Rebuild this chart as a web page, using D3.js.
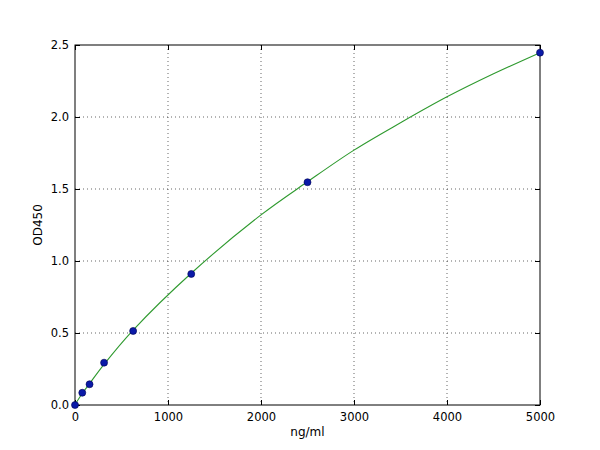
<!DOCTYPE html>
<html>
<head>
  <meta charset="utf-8">
  <title>OD450 standard curve</title>
  <style>
    body { margin: 0; background: #fff; font-family: "DejaVu Sans", sans-serif; }
    .grid line { stroke: #000; stroke-opacity: 0.75; stroke-dasharray: 1,3; stroke-width: 0.8; }
    .tick text { font-size: 11.5px; fill: #000; }
  </style>
  <script src="https://d3js.org/d3.v7.min.js"></script>
</head>
<body>
  <script>
    // standards (ng/ml) and measured OD450
    var conc = [0, 78.125, 156.25, 312.5, 625, 1250, 2500, 5000];
    var od   = [0, 0.085, 0.144, 0.294, 0.514, 0.91, 1.547, 2.447];

    // fitted curve
    var fitX = [0, 78, 156, 312, 625, 1250, 2000, 2500, 3000, 3500, 4000, 4500, 5000];
    var fitY = [0.003, 0.08, 0.148, 0.282, 0.52, 0.915, 1.32, 1.55, 1.77, 1.96, 2.14, 2.30, 2.447];

    var xTicks = [0, 1000, 2000, 3000, 4000, 5000];
    var yTicks = [0, 0.5, 1.0, 1.5, 2.0, 2.5];

    var width = 600, height = 450;
    var margin = {top: 45, right: 60, bottom: 45, left: 75};
    var w = width - margin.left - margin.right;
    var h = height - margin.top - margin.bottom;

    var svg = d3.select('body').append('svg')
      .attr('width', width)
      .attr('height', height);

    var g = svg.append('g')
      .attr('transform', 'translate(' + margin.left + ',' + margin.top + ')');

    var x = d3.scaleLinear().domain([0, 5000]).range([0, w]);
    var y = d3.scaleLinear().domain([0, 2.5]).range([h, 0]);

    // dotted grid
    g.append('g').attr('class', 'grid')
      .selectAll('line').data(xTicks.slice(1, -1)).enter().append('line')
        .attr('x1', d => x(d)).attr('x2', d => x(d))
        .attr('y1', 0).attr('y2', h);
    g.append('g').attr('class', 'grid')
      .selectAll('line').data(yTicks.slice(1, -1)).enter().append('line')
        .attr('y1', d => y(d)).attr('y2', d => y(d))
        .attr('x1', 0).attr('x2', w);

    // axes, ticks pointing inward like matplotlib classic
    var xAxis = g.append('g')
      .attr('transform', 'translate(0,' + h + ')')
      .call(d3.axisBottom(x).tickValues(xTicks).tickFormat(d3.format('d')).tickSizeInner(-5).tickSizeOuter(0).tickPadding(8));
    var xTop = g.append('g')
      .call(d3.axisTop(x).tickValues(xTicks).tickFormat('').tickSizeInner(-5).tickSizeOuter(0));
    var yAxis = g.append('g')
      .call(d3.axisLeft(y).tickValues(yTicks).tickFormat(d3.format('.1f')).tickSizeInner(-5).tickSizeOuter(0).tickPadding(6));
    var yRight = g.append('g')
      .attr('transform', 'translate(' + w + ',0)')
      .call(d3.axisRight(y).tickValues(yTicks).tickFormat('').tickSizeInner(-5).tickSizeOuter(0));

    [xAxis, xTop, yAxis, yRight].forEach(function(a) {
      a.select('.domain').remove();
      a.selectAll('.tick line').attr('stroke', '#000');
      a.selectAll('text').attr('font-family', '"DejaVu Sans", sans-serif');
    });

    // frame
    g.append('rect')
      .attr('width', w).attr('height', h)
      .attr('fill', 'none').attr('stroke', '#000').attr('stroke-width', 1);

    // fitted curve
    var line = d3.line()
      .x((d, i) => x(fitX[i]))
      .y(d => y(d))
      .curve(d3.curveCatmullRom);

    g.append('path')
      .datum(fitY)
      .attr('fill', 'none')
      .attr('stroke', '#2f9a2f')
      .attr('stroke-width', 1.1)
      .attr('d', line);

    // standard points
    g.selectAll('circle')
      .data(od)
      .enter().append('circle')
        .attr('cx', (d, i) => x(conc[i]))
        .attr('cy', d => y(d))
        .attr('r', 3.5)
        .attr('fill', '#0a1aa8')
        .attr('stroke', '#000050')
        .attr('stroke-width', 0.6);

    // axis titles
    svg.append('text')
      .attr('x', margin.left + w / 2)
      .attr('y', 436)
      .attr('text-anchor', 'middle')
      .attr('font-size', 12)
      .text('ng/ml');

    svg.append('text')
      .attr('transform', 'translate(42,' + (margin.top + h / 2) + ') rotate(-90)')
      .attr('text-anchor', 'middle')
      .attr('font-size', 12)
      .text('OD450');
  </script>
</body>
</html>
